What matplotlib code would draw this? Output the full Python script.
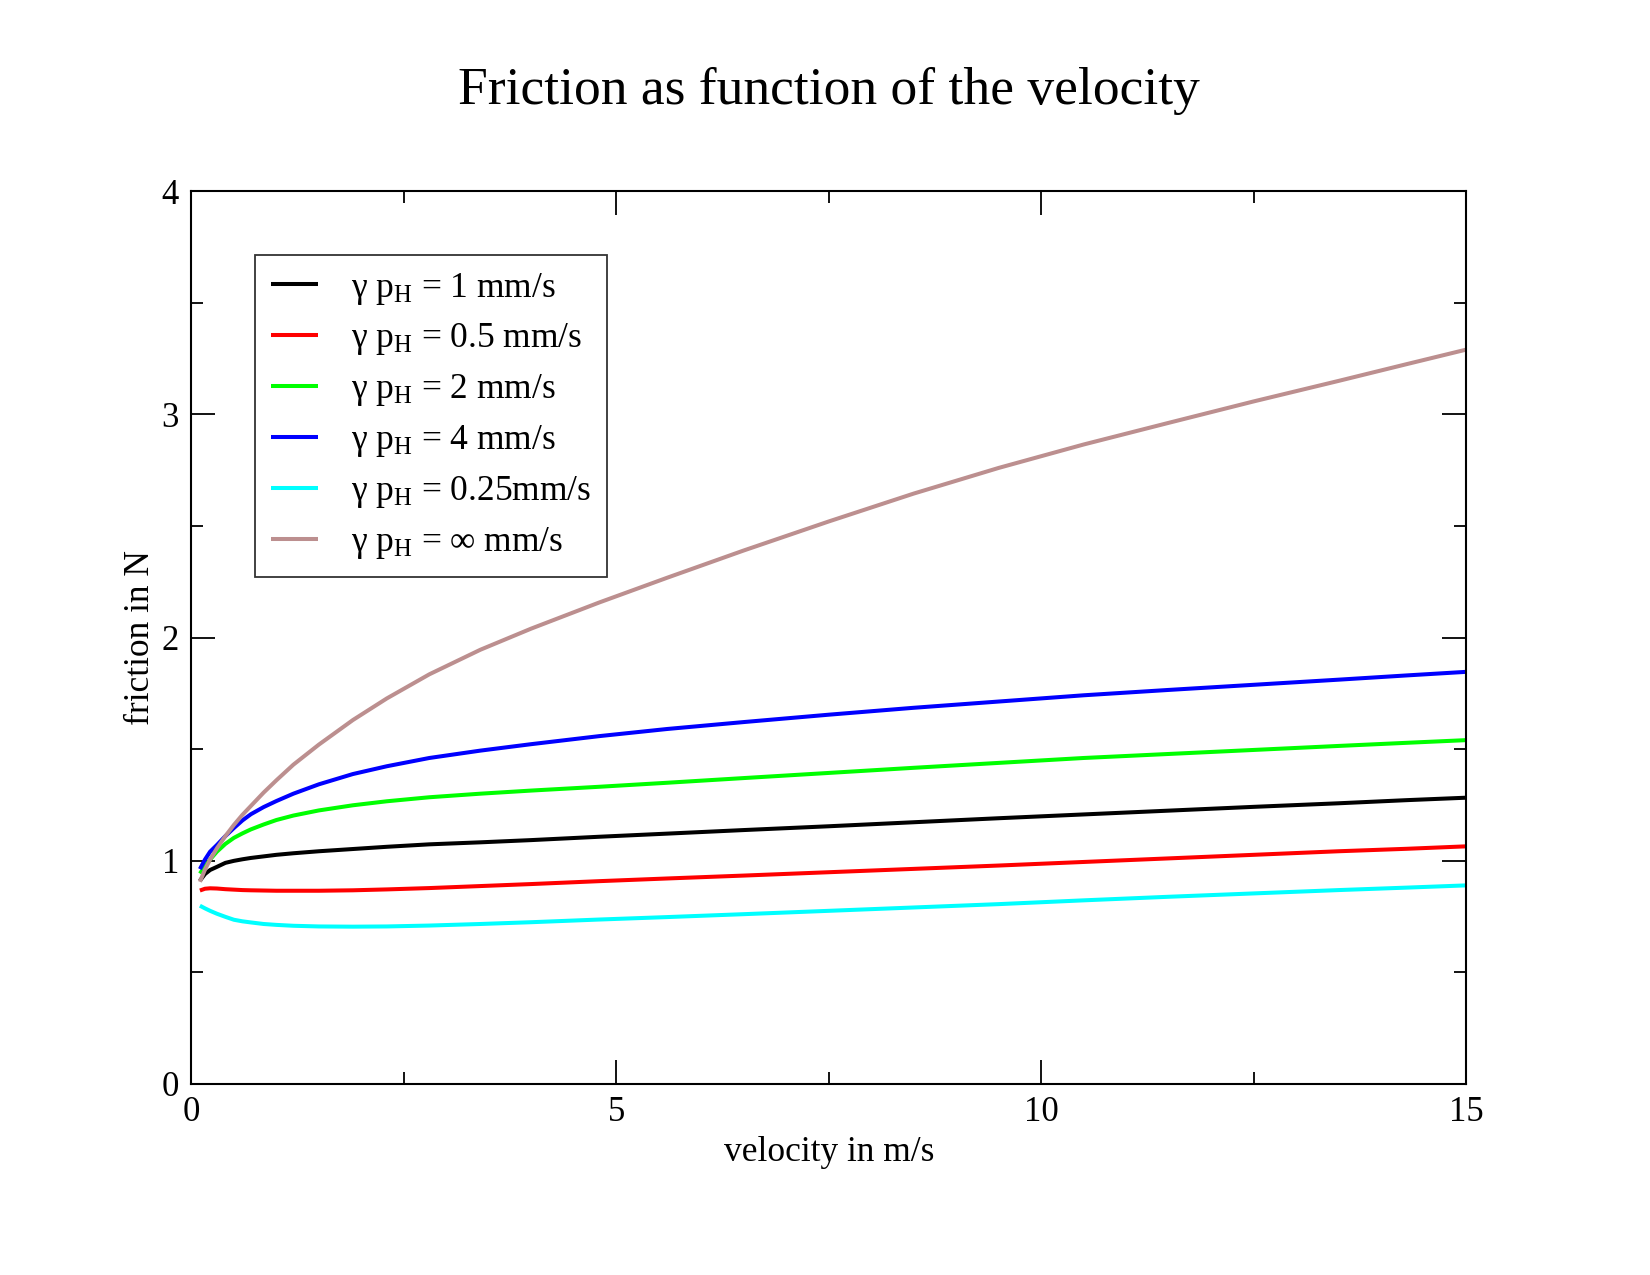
import matplotlib
matplotlib.use("Agg")
import matplotlib.pyplot as plt
from matplotlib.ticker import MultipleLocator

plt.rcParams["font.family"] = ["Liberation Serif", "DejaVu Serif"]
plt.rcParams["mathtext.fontset"] = "custom"
plt.rcParams["mathtext.rm"] = "Liberation Serif"
plt.rcParams["mathtext.it"] = "Liberation Serif:italic"

# velocity samples (m/s)
velocity = [0.1, 0.16, 0.22, 0.3, 0.4, 0.5, 0.6, 0.7, 0.85, 1.0, 1.2, 1.5,
            1.9, 2.3, 2.8, 3.4, 4.0, 4.8, 5.6, 6.5, 7.5, 8.5, 9.5, 10.5,
            11.5, 12.5, 13.5, 14.3, 15.0]

# friction (N) for each gamma*p_H
f_1mm = [0.91, 0.94, 0.958, 0.972, 0.99, 0.999, 1.006, 1.012, 1.019, 1.026,
         1.033, 1.042, 1.052, 1.062, 1.073, 1.082, 1.092, 1.107, 1.121, 1.137,
         1.154, 1.172, 1.19, 1.207, 1.224, 1.241, 1.257, 1.271, 1.282]
f_05mm = [0.866, 0.874, 0.876, 0.875, 0.872, 0.87, 0.868, 0.867, 0.866,
          0.865, 0.865, 0.865, 0.867, 0.871, 0.877, 0.886, 0.895, 0.908,
          0.92, 0.933, 0.948, 0.963, 0.978, 0.994, 1.01, 1.026, 1.042, 1.053,
          1.064]
f_2mm = [0.942, 0.975, 1.005, 1.04, 1.075, 1.102, 1.122, 1.14, 1.162, 1.182,
         1.202, 1.225, 1.248, 1.266, 1.284, 1.30, 1.314, 1.331, 1.349, 1.37,
         1.393, 1.416, 1.438, 1.46, 1.478, 1.496, 1.514, 1.528, 1.54]
f_4mm = [0.962, 1.005, 1.04, 1.07, 1.11, 1.146, 1.18, 1.208, 1.24, 1.267,
         1.30, 1.342, 1.388, 1.423, 1.46, 1.493, 1.522, 1.558, 1.59, 1.621,
         1.654, 1.685, 1.713, 1.741, 1.765, 1.788, 1.811, 1.83, 1.846]
f_025mm = [0.798, 0.786, 0.775, 0.762, 0.748, 0.735, 0.728, 0.723, 0.716,
           0.712, 0.708, 0.705, 0.704, 0.705, 0.709, 0.716, 0.724, 0.736,
           0.747, 0.76, 0.775, 0.79, 0.805, 0.822, 0.838, 0.853, 0.868,
           0.879, 0.889]
f_inf = [0.905, 0.96, 1.005, 1.055, 1.11, 1.16, 1.205, 1.245, 1.305, 1.36,
         1.43, 1.52, 1.63, 1.727, 1.835, 1.945, 2.04, 2.157, 2.268, 2.39,
         2.52, 2.645, 2.76, 2.865, 2.962, 3.058, 3.15, 3.225, 3.29]

series = [
    (f_1mm, "black", r"γ p$_{\mathrm{H}}$ = 1 mm/s"),
    (f_05mm, "#ff0000", r"γ p$_{\mathrm{H}}$ = 0.5 mm/s"),
    (f_2mm, "#00ff00", r"γ p$_{\mathrm{H}}$ = 2 mm/s"),
    (f_4mm, "#0000ff", r"γ p$_{\mathrm{H}}$ = 4 mm/s"),
    (f_025mm, "#00ffff", r"γ p$_{\mathrm{H}}$ = 0.25mm/s"),
    (f_inf, "#bc8f8f", r"γ p$_{\mathrm{H}}$ = ∞ mm/s"),
]

fig = plt.figure(figsize=(16.5, 12.75), dpi=100)
ax = fig.add_axes([0.116, 0.150, 0.7725, 0.700])

for values, color, label in series:
    ax.plot(velocity, values, color=color, lw=2.9, label=label,
            solid_capstyle="butt", solid_joinstyle="round")

ax.set_xlim(0, 15)
ax.set_ylim(0, 4)
ax.xaxis.set_major_locator(MultipleLocator(5))
ax.xaxis.set_minor_locator(MultipleLocator(2.5))
ax.yaxis.set_major_locator(MultipleLocator(1))
ax.yaxis.set_minor_locator(MultipleLocator(0.5))
ax.tick_params(which="both", direction="in", top=True, right=True,
               width=1.3, labelsize=25, pad=9)
ax.tick_params(which="major", length=17)
ax.tick_params(which="minor", length=8.5)
for sp in ax.spines.values():
    sp.set_linewidth(1.5)

ax.set_xlabel("velocity in m/s", fontsize=25.5, labelpad=5)
ax.set_ylabel("friction in N", fontsize=25.5, labelpad=3)
fig.text(0.5023, 0.929, "Friction as function of the velocity",
         fontsize=38.5, ha="center", va="center")

leg = ax.legend(loc="upper left", bbox_to_anchor=(0.0496, 0.929),
                fontsize=25.5, frameon=True, fancybox=False,
                handlelength=1.35, handletextpad=0.92, labelspacing=0.42,
                borderpad=0.45, borderaxespad=0)
leg.get_frame().set_edgecolor("black")
leg.get_frame().set_linewidth(1.3)

fig.savefig("out.png", dpi=100)
